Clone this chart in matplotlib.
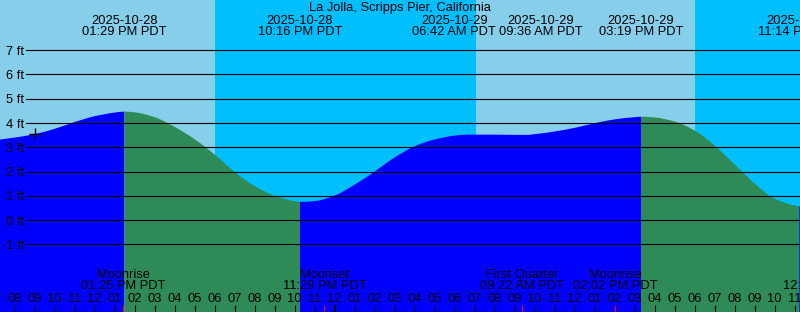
import matplotlib
matplotlib.use("Agg")
import matplotlib.pyplot as plt
import matplotlib.dates as mdates
import matplotlib.transforms as mtransforms
from matplotlib.path import Path
from matplotlib.patches import PathPatch
import numpy as np
import pandas as pd

plt.rcParams['font.family'] = ['Liberation Sans', 'DejaVu Sans']

title = "La Jolla, Scripps Pier, California"

# Tide curve samples (time, feet)
tide_times = [
    "2025-10-28 07:00", "2025-10-28 08:00", "2025-10-28 09:00", "2025-10-28 10:00",
    "2025-10-28 11:00", "2025-10-28 12:00", "2025-10-28 13:00", "2025-10-28 13:29",
    "2025-10-28 14:00", "2025-10-28 15:00", "2025-10-28 16:00", "2025-10-28 17:00",
    "2025-10-28 18:00", "2025-10-28 19:00", "2025-10-28 20:00", "2025-10-28 21:00",
    "2025-10-28 22:00", "2025-10-28 22:16", "2025-10-28 23:00", "2025-10-29 00:00",
    "2025-10-29 01:00", "2025-10-29 02:00", "2025-10-29 03:00", "2025-10-29 04:00",
    "2025-10-29 05:00", "2025-10-29 06:00", "2025-10-29 06:42", "2025-10-29 07:00",
    "2025-10-29 08:00", "2025-10-29 09:00", "2025-10-29 09:36", "2025-10-29 10:00",
    "2025-10-29 11:00", "2025-10-29 12:00", "2025-10-29 13:00", "2025-10-29 14:00",
    "2025-10-29 15:00", "2025-10-29 15:19", "2025-10-29 16:00", "2025-10-29 17:00",
    "2025-10-29 18:00", "2025-10-29 19:00", "2025-10-29 20:00", "2025-10-29 21:00",
    "2025-10-29 22:00", "2025-10-29 23:00", "2025-10-29 23:14", "2025-10-30 00:00",
]
tide_levels = [
    3.29, 3.40, 3.54, 3.76,
    4.04, 4.28, 4.43, 4.47,
    4.44, 4.24, 3.84, 3.33,
    2.70, 1.98, 1.40, 1.00,
    0.78, 0.75, 0.78, 1.01,
    1.46, 2.00, 2.58, 3.04,
    3.32, 3.48, 3.52, 3.52,
    3.52, 3.51, 3.51, 3.54,
    3.65, 3.80, 3.99, 4.15,
    4.24, 4.26, 4.23, 4.06,
    3.69, 3.07, 2.29, 1.50,
    0.88, 0.60, 0.57, 0.62,
]

# Tide extremes shown as labels at top
event_times = ["2025-10-28 13:29", "2025-10-28 22:16", "2025-10-29 06:42",
               "2025-10-29 09:36", "2025-10-29 15:19", "2025-10-29 23:14"]
event_dates = ["2025-10-28", "2025-10-28", "2025-10-29",
               "2025-10-29", "2025-10-29", "2025-10-29"]
event_clock = ["01:29 PM PDT", "10:16 PM PDT", "06:42 AM PDT",
               "09:36 AM PDT", "03:19 PM PDT", "11:14 PM PDT"]

# Rising / falling phases (start times)
phase_starts = ["2025-10-28 07:00", "2025-10-28 13:29", "2025-10-28 22:16",
                "2025-10-29 15:19", "2025-10-29 23:14"]
phase_kinds = ["rising", "falling", "rising", "falling", "rising"]

# Daylight / night bands
band_starts = ["2025-10-28 07:00", "2025-10-28 18:02", "2025-10-29 07:05",
               "2025-10-29 18:01"]
band_ends = ["2025-10-28 18:02", "2025-10-29 07:05", "2025-10-29 18:01",
             "2025-10-30 01:00"]
band_kinds = ["day", "night", "day", "night"]

# Moon events
moon_times = ["2025-10-28 13:25", "2025-10-28 23:29", "2025-10-29 09:22",
              "2025-10-29 14:02", "2025-10-30 00:31"]
moon_names = ["Moonrise", "Moonset", "First Quarter", "Moonrise", "Moonset"]
moon_clock = ["01:25 PM PDT", "11:29 PM PDT", "09:22 AM PDT",
              "02:02 PM PDT", "12:31 AM PDT"]

# "now" marker
mark_time = "2025-10-28 09:00"
mark_level = 3.53

y_levels = [-1, 0, 1, 2, 3, 4, 5, 6, 7]
x_start, x_end = "2025-10-28 07:16", "2025-10-29 23:16"
y_low, y_high = -3.79, 9.07

colors = {"day": "#87CEEB", "night": "#00BFFF",
          "rising": "#0000FF", "falling": "#2E8B57"}

W, H = 800, 312
FS = 9.3
fig = plt.figure(figsize=(W / 100, H / 100), dpi=100)
ax = fig.add_axes([0, 0, 1, 1])
ax.set_axis_off()


def d2n(s):
    return mdates.date2num(pd.Timestamp(s).to_pydatetime())


tx = np.array([d2n(t) for t in tide_times])
ty = np.array(tide_levels, dtype=float)
ax.set_xlim(d2n(x_start), d2n(x_end))
ax.set_ylim(y_low, y_high)

# background bands
for s, e, k in zip(band_starts, band_ends, band_kinds):
    ax.axvspan(d2n(s), d2n(e), color=colors[k], lw=0, zorder=0)

# monotone (PCHIP-style) tangents so the drawn curve is smooth through the samples
hseg = np.diff(tx)
dseg = np.diff(ty) / hseg
m = np.zeros_like(ty)
m[0], m[-1] = dseg[0], dseg[-1]
for k in range(1, len(ty) - 1):
    if dseg[k - 1] * dseg[k] > 0:
        w1 = 2 * hseg[k] + hseg[k - 1]
        w2 = hseg[k] + 2 * hseg[k - 1]
        m[k] = (w1 + w2) / (w1 / dseg[k - 1] + w2 / dseg[k])


def curve_patch(i0, i1, color):
    verts = [(tx[i0], y_low), (tx[i0], ty[i0])]
    codes = [Path.MOVETO, Path.LINETO]
    for k in range(i0, i1):
        h = tx[k + 1] - tx[k]
        verts += [(tx[k] + h / 3, ty[k] + m[k] * h / 3),
                  (tx[k + 1] - h / 3, ty[k + 1] - m[k + 1] * h / 3),
                  (tx[k + 1], ty[k + 1])]
        codes += [Path.CURVE4] * 3
    verts += [(tx[i1], y_low), (tx[i0], y_low)]
    codes += [Path.LINETO, Path.CLOSEPOLY]
    ax.add_patch(PathPatch(Path(verts, codes), facecolor=color, lw=0,
                           zorder=1))


starts_idx = [int(np.argmin(np.abs(tx - d2n(s)))) for s in phase_starts]
ends_idx = starts_idx[1:] + [len(tx) - 1]
for i0, i1, k in zip(starts_idx, ends_idx, phase_kinds):
    curve_patch(i0, i1, colors[k])

# horizontal lines & labels
ylab_tr = mtransforms.blended_transform_factory(ax.transAxes, ax.transData)
for lv in y_levels:
    ax.axhline(lv, xmin=26 / W, xmax=1, color="black", lw=0.8, zorder=3)
    ax.text(24.5 / W, lv, f"{lv} ft", transform=ylab_tr,
            ha="right", va="center_baseline", fontsize=FS, zorder=4)

# marker
ax.plot([d2n(mark_time)], [mark_level], marker="+", color="black",
        markersize=9, mew=1.0, zorder=4)

# title
ax.text(0.5, 1 - 11 / H, title, transform=ax.transAxes, ha="center",
        va="baseline", fontsize=FS, zorder=5)

# top labels with simple de-overlap
fig.canvas.draw()
renderer = fig.canvas.get_renderer()
px = [ax.transData.transform((d2n(t), 0))[0] for t in event_times]
widths = []
for c in event_clock:
    tt = ax.text(0, 0, c, fontsize=FS)
    widths.append(tt.get_window_extent(renderer).width)
    tt.remove()
for _ in range(10):
    for i in range(len(px) - 1):
        need = (widths[i] + widths[i + 1]) / 2 + 3
        gap = px[i + 1] - px[i]
        if gap < need:
            sh = (need - gap) / 2
            px[i] -= sh
            px[i + 1] += sh
for x, d, c in zip(px, event_dates, event_clock):
    ax.text(x / W, 1 - 24 / H, d, transform=ax.transAxes, ha="center",
            va="baseline", fontsize=FS, zorder=5)
    ax.text(x / W, 1 - 34.7 / H, c, transform=ax.transAxes, ha="center",
            va="baseline", fontsize=FS, zorder=5)

blend = mtransforms.blended_transform_factory(ax.transData, ax.transAxes)

# hour ticks and labels
xs0, xs1 = ax.get_xlim()
hours = pd.date_range("2025-10-28 07:00", "2025-10-30 00:00", freq="h")
for h in hours:
    x = d2n(h)
    if x < xs0 - 0.05 or x > xs1 + 0.05:
        continue
    lw = 1.6 if h.hour == 0 else 0.8
    ax.plot([x, x], [0, 7 / H], transform=blend, color="black", lw=lw,
            solid_capstyle="butt", zorder=5)
    ax.text(x, 10.3 / H, h.strftime("%I"), transform=blend, ha="center",
            va="baseline", fontsize=FS, zorder=5)

# moon events
for t, n, c in zip(moon_times, moon_names, moon_clock):
    x = d2n(t)
    ax.plot([x, x], [0, 7 / H], transform=blend, color="red", lw=0.8,
            solid_capstyle="butt", zorder=6)
    ax.text(x, 34 / H, n, transform=blend, ha="center", va="baseline",
            fontsize=FS, zorder=5)
    ax.text(x, 23 / H, c, transform=blend, ha="center", va="baseline",
            fontsize=FS, zorder=5)

fig.savefig("out.png", dpi=100)
